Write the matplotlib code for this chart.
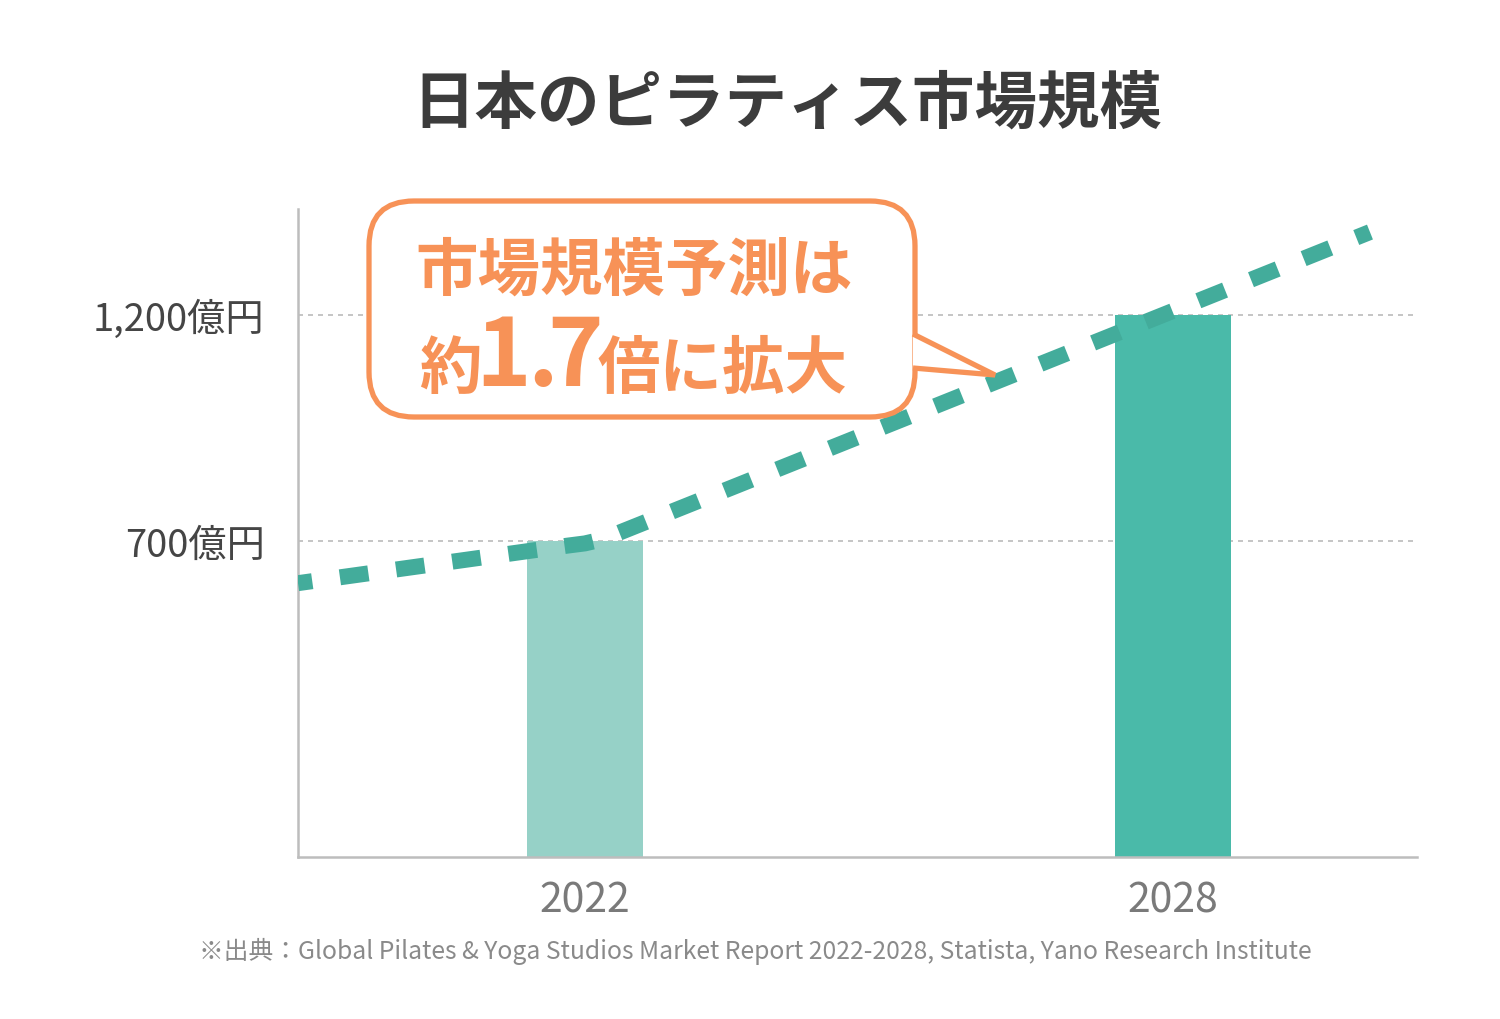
import matplotlib.pyplot as plt
from matplotlib.patches import FancyBboxPatch, Polygon

plt.rcParams['font.family'] = ['Noto Sans CJK JP', 'DejaVu Sans']

# データ
years = ['2022', '2028']
market = [700, 1200]  # 億円
bar_colors = ['#96D1C7', '#4ABAA9']
ytick_vals = [700, 1200]
ytick_labels = ['700億円', '1,200億円']
# 成長トレンド（破線）
trend_x = [-0.488, -0.03, 0.0, 0.03, 1.335]
trend_y = [606, 689, 694, 703, 1383]

orange = '#F79257'
W, H = 1500, 1020

fig = plt.figure(figsize=(15, 10.2), dpi=100)
ax = fig.add_axes([298 / W, 162 / H, 1119 / W, 648 / H])

ax.bar(range(len(years)), market, width=0.197, color=bar_colors, zorder=2)
ax.plot(trend_x, trend_y, color='#43AC9B', lw=11.5, linestyle=(0.9, (1.8, 1.75)),
        solid_capstyle='butt', dash_capstyle='butt', zorder=3)

ax.set_xlim(-0.488, 1.415)
ax.set_ylim(0, 1434)
ax.set_xticks(range(len(years)))
ax.set_xticklabels(years, fontsize=29.5, color='#7A7A7A')
ax.set_yticks(ytick_vals)
ax.set_yticklabels(ytick_labels, fontsize=27.5, color='#454545')
ax.tick_params(length=0, axis='x', pad=16)
ax.tick_params(length=0, axis='y', pad=24)
ax.yaxis.grid(True, color='#BBBBBB', lw=1.2, dashes=(3, 3))
ax.set_axisbelow(True)
for s in ['top', 'right']:
    ax.spines[s].set_visible(False)
for s in ['left', 'bottom']:
    ax.spines[s].set_color('#BDBDBD')
    ax.spines[s].set_linewidth(1.8)

# 吹き出し用のオーバーレイ（ピクセル座標）
ov = fig.add_axes([0, 0, 1, 1], zorder=5)
ov.set_xlim(0, W)
ov.set_ylim(H, 0)
ov.axis('off')

box = FancyBboxPatch((369, 202), 546, 216, boxstyle='round,pad=0,rounding_size=45',
                     facecolor='white', edgecolor=orange, lw=3.8)
ov.add_patch(box)
tail = Polygon([(913, 335), (995, 376), (913, 369)], closed=False,
               facecolor='white', edgecolor=orange, lw=3.8, joinstyle='miter')
ov.add_patch(tail)

ov.text(634, 290, '市場規模予測は', fontsize=45, fontweight='bold', color=orange,
        ha='center', va='baseline')
ov.text(450, 388, '約', fontsize=45, fontweight='bold', color=orange, ha='center', va='baseline')
for ch, cx in zip(['1', '.', '7'], [503, 543, 575]):
    ov.text(cx, 386, ch, fontsize=68, fontweight='bold', color=orange, ha='center', va='baseline')
ov.text(598, 388, '倍に拡大', fontsize=45, fontweight='bold', color=orange, ha='left', va='baseline')

fig.text(787 / W, 1 - 104 / H, '日本のピラティス市場規模', fontsize=45, fontweight='bold',
         color='#3C3C3C', ha='center', va='center')
fig.text(755 / W, 1 - 951 / H,
         '※出典：Global Pilates & Yoga Studios Market Report 2022-2028, Statista, Yano Research Institute',
         fontsize=17.8, color='#8A8A8A', ha='center', va='center')

fig.savefig('out.png', dpi=100, facecolor='white')
